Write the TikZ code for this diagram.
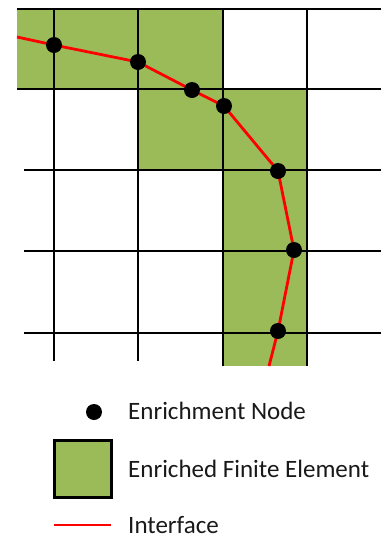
\documentclass[tikz,border=0pt]{standalone}
\usepackage{fontspec}
\setmainfont{Carlito}
\definecolor{elemgreen}{HTML}{9BBB59}

\begin{document}
\begin{tikzpicture}[x=1pt, y=-1pt,
  grid/.style={line width=2.2pt, black},
  enriched/.style={fill=elemgreen},
  enode/.style={circle, fill=black, inner sep=0pt, minimum size=16pt},
  iface/.style={line width=2.8pt, red},
  legtext/.style={anchor=west, inner sep=0pt, text=black!90, font=\fontsize{25}{30}\selectfont}]
  \useasboundingbox (0,0) rectangle (381,539);

  % Enriched elements
  \fill[enriched] (17,9) rectangle (223,89);
  \fill[enriched] (138,89) rectangle (307,170);
  \fill[enriched] (223,170) rectangle (307,366);

  % Mesh
  \draw[grid] (17,9) -- (381,9);
  \draw[grid] (17,89) -- (381,89);
  \foreach \y in {170,251,333} \draw[grid] (24,\y) -- (381,\y);
  \foreach \x in {54,138} \draw[grid] (\x,9) -- (\x,361);
  \foreach \x in {223,307} \draw[grid] (\x,9) -- (\x,366);

  % Interface
  \coordinate (ifstart) at (17,37);
  \coordinate (c1) at (54,45);
  \coordinate (c2) at (138,62);
  \coordinate (c3) at (192,90);
  \coordinate (c4) at (224,106);
  \coordinate (c5) at (278,171);
  \coordinate (c6) at (294,250);
  \coordinate (c7) at (278,331);
  \coordinate (ifend) at (269,366);
  \draw[iface] (ifstart) -- (c1) -- (c2) -- (c3) -- (c4) -- (c5) -- (c6) -- (c7) -- (ifend);

  % Enrichment nodes
  \foreach \i in {1,...,7} \node[enode] (n\i) at (c\i) {};

  % Legend
  \node[enode] (keynode) at (94,412) {};
  \node[legtext] (keynodetext) at (128,411) {Enrichment Node};
  \node[enriched, draw=black, line width=2.2pt, minimum size=57pt, inner sep=0pt] (keyelem) at (83,469) {};
  \node[legtext] (keyelemtext) at (128,469) {Enriched Finite Element};
  \coordinate (keyifa) at (54,525);
  \coordinate (keyifb) at (111,525);
  \draw[iface] (keyifa) -- (keyifb);
  \node[legtext] (keyiftext) at (128,525) {Interface};
\end{tikzpicture}
\end{document}
